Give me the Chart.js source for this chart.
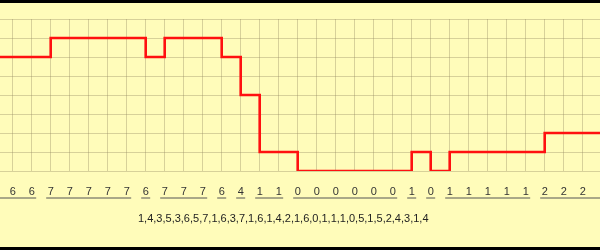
<!DOCTYPE html>
<html>
<head>
<meta charset="utf-8">
<script src="https://cdn.jsdelivr.net/npm/chart.js@4/dist/chart.umd.min.js"></script>
<style>
  body{ margin:0; background:#fff; }
  #wrap{ position:relative; width:600px; height:250px; background:#fffcba; }
  #wrap canvas{ position:absolute; left:0; top:0; }
  .bar{ position:absolute; left:0; width:600px; background:#000; }
</style>
</head>
<body>
<div id="wrap">
  <canvas id="chart" width="600" height="250"></canvas>
  <div class="bar" style="top:0;height:3px"></div>
  <div class="bar" style="bottom:0;height:3px"></div>
</div>
<script>
// data
const levels = [6,6,7,7,7,7,7,6,7,7,7,6,4,1,1,0,0,0,0,0,0,1,0,1,1,1,1,1,2,2,2];
const sequence = [1,4,3,5,3,6,5,7,1,6,3,7,1,6,1,4,2,1,6,0,1,1,1,0,5,1,5,2,4,3,1,4];
const yTicks = [0,1,2,3,4,5,6,7,8];

// step points, one extra each side so the line runs off the edges
const points = levels.map((v,i)=>({x:i, y:v}));
points.unshift({x:-1, y:levels[0]});
points.push({x:levels.length, y:levels[levels.length-1]});

const FONT = "'Liberation Sans', Arial, sans-serif";
const GRID = "rgba(150,140,100,0.38)";

// underline runs of equal labels + the sequence text underneath
const extras = {
  id:"extras",
  afterDraw(chart){
    const ctx = chart.ctx;
    const xs = chart.scales.x;
    const area = chart.chartArea;
    const uy = 198;
    ctx.save();
    ctx.strokeStyle = "#555";
    ctx.lineWidth = 1;
    let start = 0;
    for(let i=1;i<=levels.length;i++){
      if(i===levels.length || levels[i]!==levels[start]){
        const x0 = start===0 ? area.left : xs.getPixelForValue(start) - 4.5;
        const x1 = i===levels.length ? area.right : xs.getPixelForValue(i-1) + 4.5;
        ctx.beginPath();
        ctx.moveTo(x0, uy);
        ctx.lineTo(x1, uy);
        ctx.stroke();
        start = i;
      }
    }
    ctx.fillStyle = "#222";
    ctx.font = "11px " + FONT;
    ctx.textAlign = "left";
    ctx.textBaseline = "alphabetic";
    ctx.fillText(sequence.join(","), 138, 222);
    ctx.restore();
  }
};

new Chart(document.getElementById("chart"), {
  type:"line",
  data:{ datasets:[{
    data:points,
    stepped:"before",
    borderColor:"#ff1010",
    borderWidth:2.6,
    pointRadius:0,
    fill:false
  }]},
  options:{
    responsive:false,
    animation:false,
    devicePixelRatio:1,
    layout:{ padding:{ top:19, bottom:51.8, left:0, right:0 } },
    plugins:{ legend:{display:false}, tooltip:{enabled:false} },
    scales:{
      x:{
        type:"linear",
        min:-12.7/19,
        max:-12.7/19 + 600/19,
        border:{display:false},
        grid:{ color:GRID, lineWidth:1, drawTicks:false },
        afterFit:(s)=>{ s.height = 27.2; s.paddingLeft = 0; s.paddingRight = 0; },
        ticks:{
          stepSize:1,
          includeBounds:false,
          autoSkip:false,
          maxRotation:0,
          padding:14,
          color:"#333",
          font:{ family:FONT, size:11 },
          callback:(v)=> levels[v] ?? ""
        }
      },
      y:{
        min:yTicks[0],
        max:yTicks[yTicks.length-1],
        border:{display:false},
        grid:{ color:GRID, lineWidth:1, drawTicks:false },
        afterFit:(s)=>{ s.width = 0; s.paddingTop = 0; s.paddingBottom = 0; },
        ticks:{ display:false, stepSize:1 }
      }
    }
  },
  plugins:[extras]
});
</script>
</body>
</html>
